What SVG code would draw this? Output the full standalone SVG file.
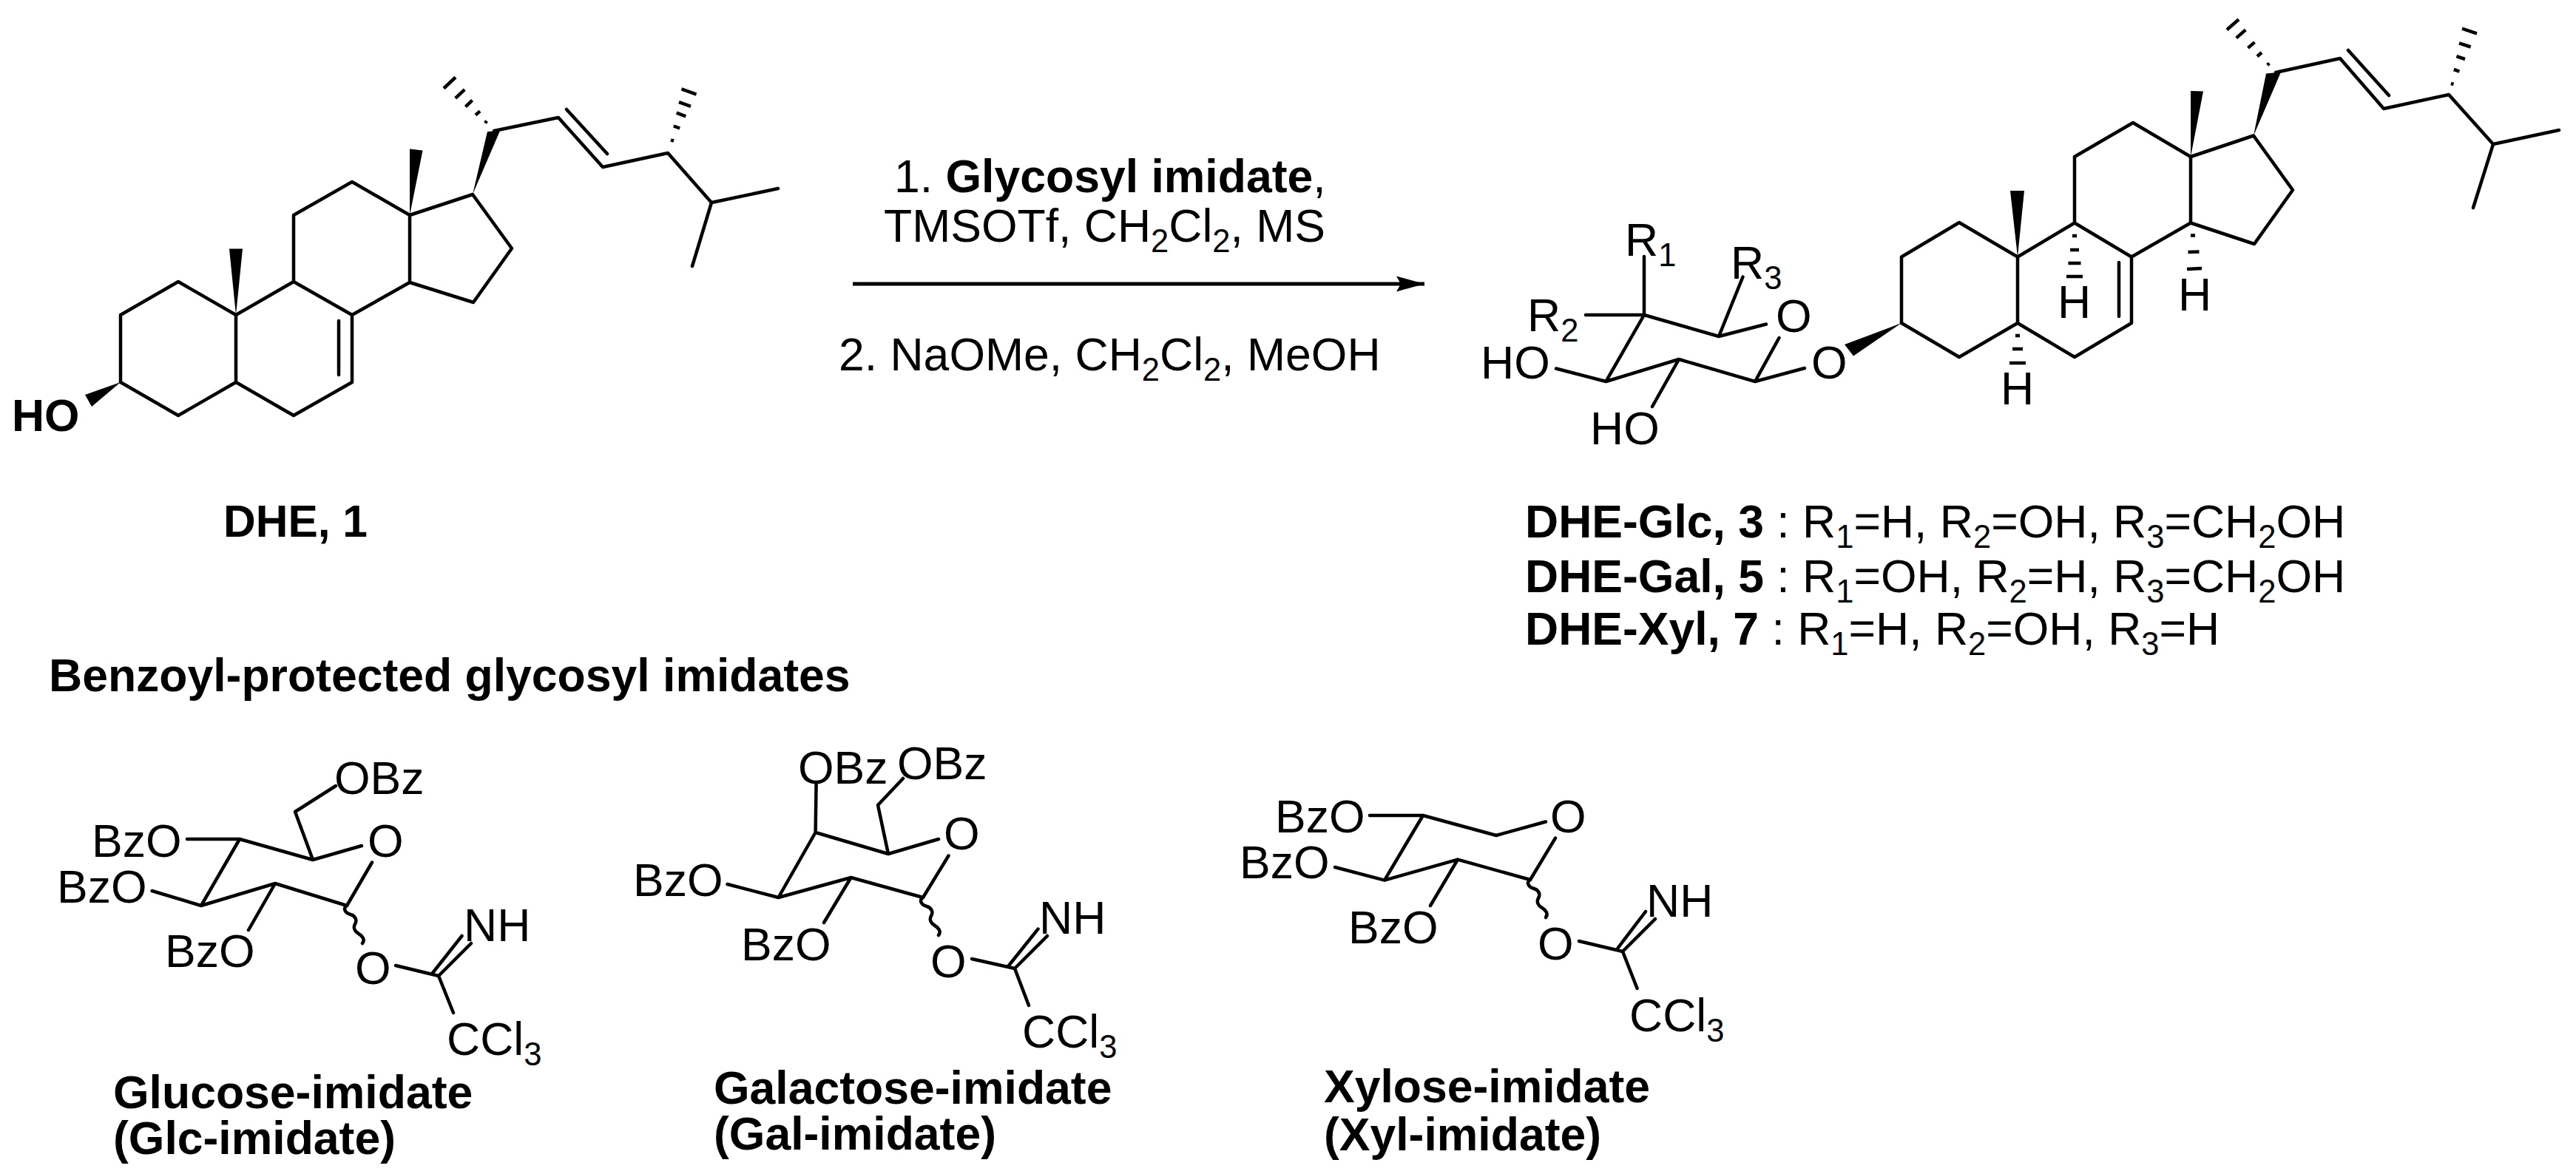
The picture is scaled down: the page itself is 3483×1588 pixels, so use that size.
<svg xmlns="http://www.w3.org/2000/svg" width="3483" height="1588" viewBox="0 0 3483 1588">
<style>
text{font-family:"Liberation Sans",Arial,sans-serif;font-size:62.500px;fill:#000}
.b{font-weight:700}
.s{font-size:43.500px}
.bond{fill:none;stroke:#000;stroke-width:4.500;stroke-linecap:round;stroke-linejoin:round}
.hash{fill:none;stroke:#000;stroke-width:4.500}
.wedge{fill:#000;stroke:none}
</style>
<defs>
<marker id="head" markerUnits="userSpaceOnUse" markerWidth="40" markerHeight="24" refX="38" refY="12" orient="auto"><path d="M0 1.500L38 12L0 22.500L6 12Z" fill="#000"/></marker>
<path id="wavy" class="bond" d="M0 0c-6 4-2 10 5 12s9 8 6 13s0 10 5 13s9 8 5 13"/>
</defs>
<rect width="3483" height="1588" fill="#fff"/>
<g id="connectors">
<line x1="1153" y1="384" x2="1926" y2="384" stroke="#000" stroke-width="5" marker-end="url(#head)"/>
</g>
<g id="reagents">
<text x="1209" y="260">1. <tspan class="b">Glycosyl imidate</tspan>,</text>
<text x="1195" y="327">TMSOTf, CH<tspan class="s" dy="14">2</tspan><tspan dy="-14">Cl</tspan><tspan class="s" dy="14">2</tspan><tspan dy="-14">, MS</tspan></text>
<text x="1134" y="501">2. NaOMe, CH<tspan class="s" dy="14">2</tspan><tspan dy="-14">Cl</tspan><tspan class="s" dy="14">2</tspan><tspan dy="-14">, MeOH</tspan></text>
</g>
<g id="dhe-1">
<path class="bond" d="M163 517V426L241 381L319 426V517L241 562L163 517M319 426L397 381L476 426V517L397 562L319 517M458 434V507M397 381V291L476 246L554 291V382L476 426M554 291L639 263L692 336L640 409L554 382M668 177L755 159L815 226L903 207L962 274L1052 255M962 274L936 360M766 148L821 208"/>
<path class="wedge" d="M319 426L310 336.500H328ZM554 291L554 201.500L571.500 203.500ZM639 263L659 178L676 177ZM163 517L115 534L124 550Z"/>
<path class="hash" d="M656 166.500L658 163.500M643 155.700L649 150.300M629.400 144.300L638.600 135.700M615.800 132.800L628.200 121.200M600 119.500L616 104.500M907 189.300L911 190.700M910.800 170.500L919.200 173.500M914.700 152.700L927.300 157.300M918 138.100L934 143.900M921.500 120.400L941.500 127.600"/>
<text class="b" x="16" y="583" style="font-size:61px">HO</text>
<text class="b" x="302" y="726" style="font-size:60.500px">DHE, 1</text>
</g>
<g id="dhe-glycoside">
<path class="bond" d="M2571 437V347.500L2649 301L2728 347.500V437L2649 483L2571 437M2728 347.500L2805 301.500L2882 347.500V437L2805 483L2728 437M2865 355V428M2805 301.500V212L2884 166L2962 212V301.500L2882 347.500M2962 212L3047 183.500L3100 257L3048 330L2962 301.500M3077 98L3164 79L3223 147L3311 128L3371 195L3460 176M3371 195L3344 281M3175 68L3230 129"/>
<path class="wedge" d="M2728 347.500L2718 258H2737ZM2962 212V123L2979 123.500ZM3047 183.500L3064 99.500L3084 97.500ZM2571 437L2494 466L2506 481.500Z"/>
<path class="hash" d="M3065.600 88L3068.400 85.600M3052 76.200L3058 71M3039.500 64.900L3048.500 57.100M3023.700 51.400L3036.300 40.400M3011 40.300L3027 26.300M3314 112.800L3317.500 114M3317.800 94L3325.400 96.600M3321.400 76.200L3333 80M3325 58.300L3340.600 63.500M3329 38.700L3349 45.300M2802 319H2808M2799 338H2811M2796.500 356H2813.500M2794 374H2816M2962 318.400H2968M2958.500 341L2973.500 340.400M2957 364L2977 363M2725 454H2731M2721 472H2735M2717 491H2739"/>
<path class="bond" d="M2223 347V426L2324 455L2388 438.500M2405.500 457L2373 516L2270 486L2171.400 516L2223 426M2144 426H2223M2324 455L2356.500 374.500M2171.400 516L2104 498.500M2270 486L2234 550M2373 516L2440 498"/>
<text x="2197" y="346">R<tspan class="s" dy="14">1</tspan></text>
<text x="2340" y="377">R<tspan class="s" dy="14">3</tspan></text>
<text x="2065" y="448">R<tspan class="s" dy="14">2</tspan></text>
<text x="2401" y="449">O</text>
<text x="2449" y="512">O</text>
<text x="2002" y="512">HO</text>
<text x="2150" y="601">HO</text>
<text x="2782" y="430">H</text>
<text x="2945" y="420">H</text>
<text x="2705" y="547">H</text>
</g>
<g id="compound-list">
<text x="2062" y="727"><tspan class="b">DHE-Glc, 3</tspan> : R<tspan class="s" dy="14">1</tspan><tspan dy="-14">=H, R</tspan><tspan class="s" dy="14">2</tspan><tspan dy="-14">=OH, R</tspan><tspan class="s" dy="14">3</tspan><tspan dy="-14">=CH</tspan><tspan class="s" dy="14">2</tspan><tspan dy="-14">OH</tspan></text>
<text x="2062" y="801"><tspan class="b">DHE-Gal, 5</tspan> : R<tspan class="s" dy="14">1</tspan><tspan dy="-14">=OH, R</tspan><tspan class="s" dy="14">2</tspan><tspan dy="-14">=H, R</tspan><tspan class="s" dy="14">3</tspan><tspan dy="-14">=CH</tspan><tspan class="s" dy="14">2</tspan><tspan dy="-14">OH</tspan></text>
<text x="2062" y="872"><tspan class="b">DHE-Xyl, 7</tspan> : R<tspan class="s" dy="14">1</tspan><tspan dy="-14">=H, R</tspan><tspan class="s" dy="14">2</tspan><tspan dy="-14">=OH, R</tspan><tspan class="s" dy="14">3</tspan><tspan dy="-14">=H</tspan></text>
</g>
<g id="heading">
<text class="b" x="66" y="935">Benzoyl-protected glycosyl imidates</text>
</g>
<g id="glc-imidate">
<path class="bond" d="M454 1063L399 1098L423 1163L489 1144M503 1166.500L469 1225L372 1195L272 1225L324 1135L423 1163M324 1135H253M272 1225L205.500 1205M372 1195L336 1258M535 1306L593 1320L637 1276M585 1316L624.500 1266M593 1320L613 1370"/>
<use href="#wavy" x="469" y="1225"/>
<text x="452" y="1074">OBz</text><text x="497" y="1159">O</text>
<text x="124" y="1159">BzO</text><text x="77" y="1221">BzO</text><text x="223" y="1308">BzO</text>
<text x="480" y="1331">O</text><text x="627" y="1273">NH</text>
<text x="604" y="1427">CCl<tspan class="s" dy="14">3</tspan></text>
<text class="b" x="153" y="1499">Glucose-imidate</text><text class="b" x="153" y="1561">(Glc-imidate)</text>
</g>
<g id="gal-imidate">
<path class="bond" d="M1103.600 1059.600L1102.600 1126L1201 1155L1269 1135M1221 1053L1187 1089L1201 1155M1282.500 1157.500L1248 1214L1150.600 1187L1052.500 1214L1102.600 1126M1052.500 1214L983.500 1196M1150.600 1187L1114 1248M1314 1297L1372 1310L1416 1266M1364 1306L1403.500 1256.600M1372 1310L1391 1360"/>
<use href="#wavy" x="1248" y="1214"/>
<text x="1079" y="1060">OBz</text><text x="1213" y="1054">OBz</text><text x="1276" y="1149">O</text>
<text x="856" y="1212">BzO</text><text x="1002" y="1299">BzO</text>
<text x="1258" y="1322">O</text><text x="1405" y="1263">NH</text>
<text x="1382" y="1417">CCl<tspan class="s" dy="14">3</tspan></text>
<text class="b" x="965" y="1493">Galactose-imidate</text><text class="b" x="965" y="1555">(Gal-imidate)</text>
</g>
<g id="xyl-imidate">
<path class="bond" d="M1852 1103H1924L2023 1130L2090 1111.500M2103 1133.600L2069 1190L1971 1162.700L1872 1190.600L1924 1103M1872 1190.600L1805 1173M1971 1162.700L1934 1225M2135 1273L2194 1287L2238 1243M2187 1283L2225 1233M2194 1287L2213.600 1337"/>
<use href="#wavy" x="2069" y="1190"/>
<text x="1724" y="1126">BzO</text><text x="1676" y="1188">BzO</text><text x="1823" y="1276">BzO</text>
<text x="2096" y="1126">O</text><text x="2079" y="1298">O</text><text x="2226" y="1240">NH</text>
<text x="2203" y="1395">CCl<tspan class="s" dy="14">3</tspan></text>
<text class="b" x="1790" y="1491">Xylose-imidate</text><text class="b" x="1790" y="1556">(Xyl-imidate)</text>
</g>
</svg>
